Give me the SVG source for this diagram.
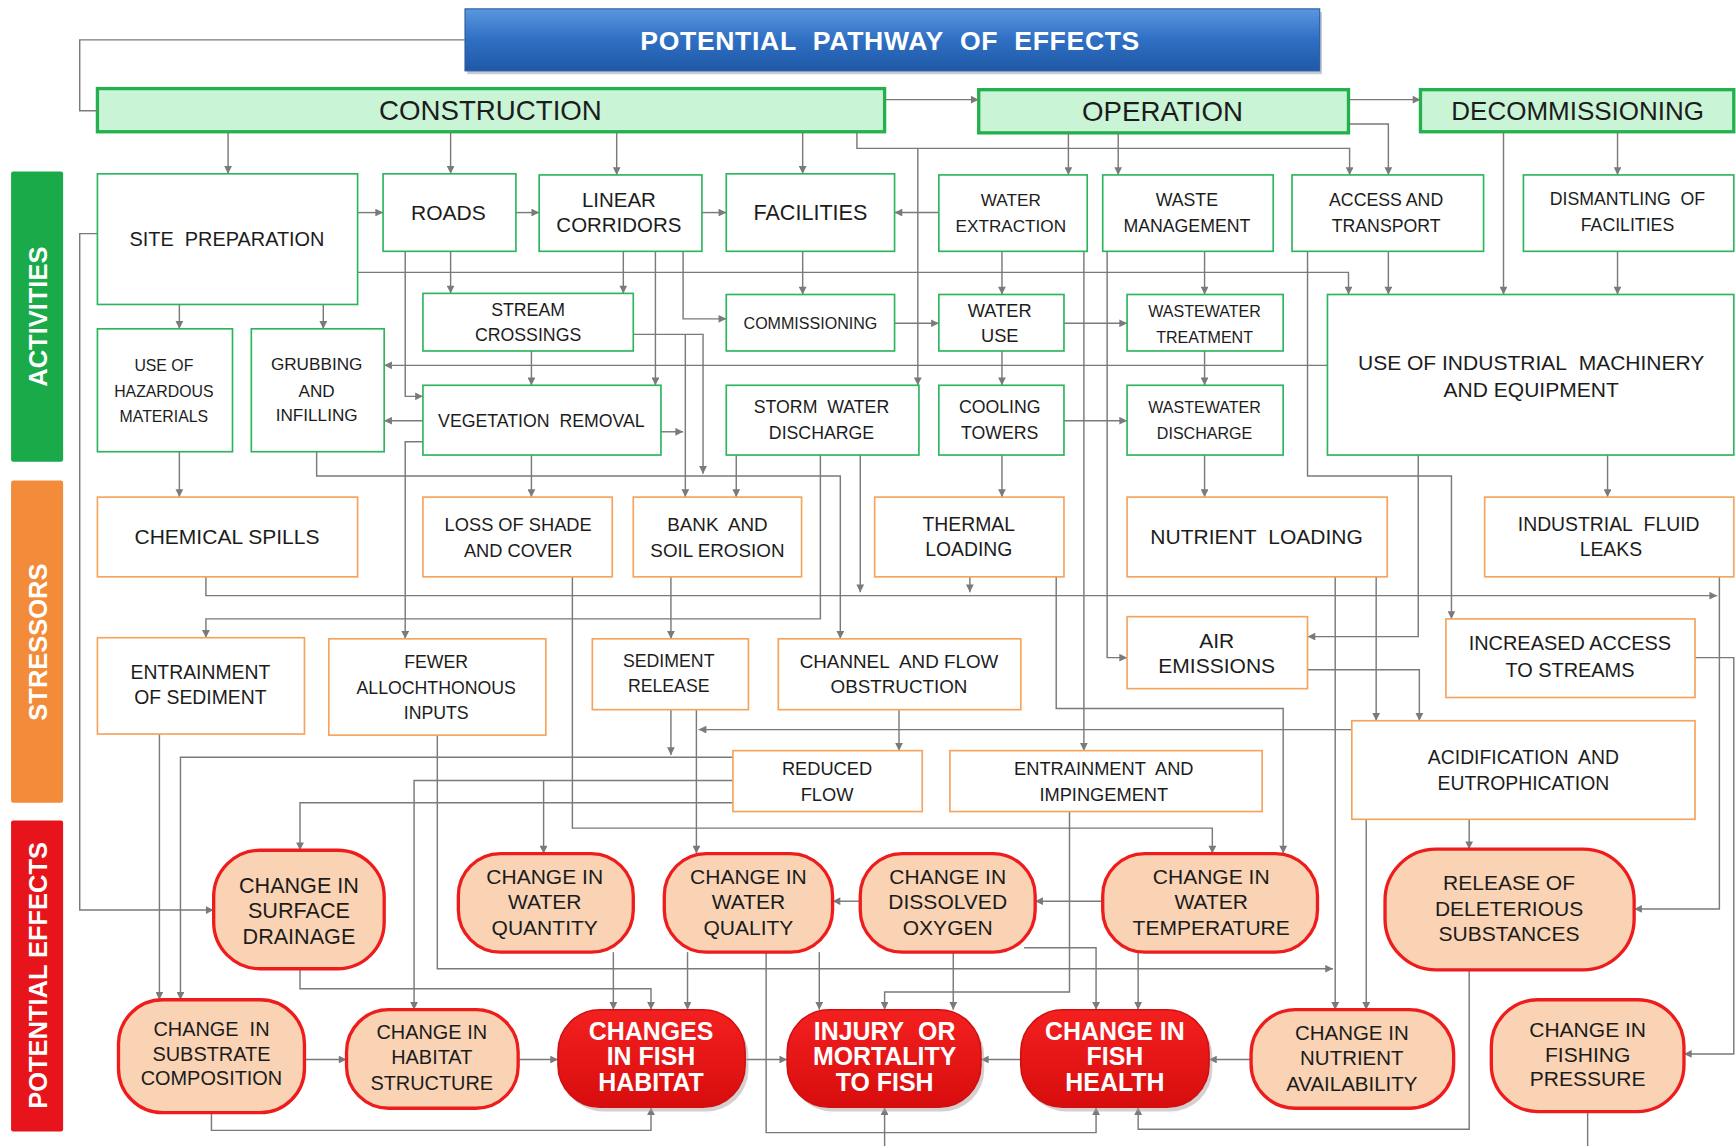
<svg xmlns="http://www.w3.org/2000/svg" width="1736" height="1146" viewBox="0 0 1736 1146">
<defs>
<style>
.t{font-family:"Liberation Sans",Arial,sans-serif;fill:#1c1c1c;text-anchor:middle;dominant-baseline:central}
.w{fill:#fff;font-weight:bold}
.act{fill:#fff;stroke:#2db55d;stroke-width:1.5}
.str{fill:#fff;stroke:#f6a35e;stroke-width:1.5}
.eff{fill:#f9d3b4;stroke:#ee1c1c;stroke-width:3}
.key{fill:url(#redg);stroke:#d01010;stroke-width:1.5}
.ph{fill:#c9f4d6;stroke:#22b14c;stroke-width:3}
.c{fill:none;stroke:#7a7a7a;stroke-width:1.3}
.a{marker-end:url(#ah)}
</style>
<marker id="ah" viewBox="0 0 10 10" refX="10" refY="5" markerWidth="8" markerHeight="7" markerUnits="userSpaceOnUse" orient="auto"><path d="M0,0 L10,5 L0,10 z" fill="#7a7a7a"/></marker>
<linearGradient id="blueg" x1="0" y1="0" x2="0" y2="1"><stop offset="0" stop-color="#5a97df"/><stop offset="0.5" stop-color="#2f6fc3"/><stop offset="1" stop-color="#1f58a6"/></linearGradient>
<linearGradient id="redg" x1="0" y1="0" x2="0" y2="1"><stop offset="0" stop-color="#f42020"/><stop offset="1" stop-color="#d80d0d"/></linearGradient>
</defs>
<rect width="1736" height="1146" fill="#fff"/>
<g transform="scale(1.10714)">
<g id="title">
<rect x="422" y="11" width="772" height="56" fill="#9aa6b6" opacity="0.6"/>
<rect x="420" y="8" width="772" height="56" fill="url(#blueg)" stroke="#2a5c9e" stroke-width="1"/>
<text class="t w" x="804" y="37" font-size="24" letter-spacing="0.6">POTENTIAL&#160; PATHWAY&#160; OF&#160; EFFECTS</text>
</g>
<g id="label-activities"><rect x="10" y="155" width="47" height="262" fill="#1aaa4a" rx="2"/><text class="t w" transform="translate(34,286) rotate(-90)" font-size="23">ACTIVITIES</text></g>
<g id="label-stressors"><rect x="10" y="434" width="47" height="291" fill="#f28c3a" rx="2"/><text class="t w" transform="translate(34,580) rotate(-90)" font-size="23">STRESSORS</text></g>
<g id="label-effects"><rect x="10" y="741" width="47" height="281" fill="#e8141b" rx="2"/><text class="t w" transform="translate(34,881) rotate(-90)" font-size="23">POTENTIAL EFFECTS</text></g>
<g id="construction"><rect class="ph" x="88" y="80" width="711" height="39"/><text class="t" x="443" y="100" font-size="25">CONSTRUCTION</text></g>
<g id="operation"><rect class="ph" x="884" y="81" width="334" height="39"/><text class="t" x="1050" y="101" font-size="25">OPERATION</text></g>
<g id="decommissioning"><rect class="ph" x="1283" y="81" width="283" height="38"/><text class="t" x="1425" y="100" font-size="23.5">DECOMMISSIONING</text></g>
<g id="connectors">
<path class="c" d="M420,36 H72 V100 H88"/>
<path class="c a" d="M799,90 H884"/>
<path class="c a" d="M1218,90 H1283"/>
<path class="c a" d="M1219,112 H1254 V158"/>
<path class="c a" d="M206,119 V157"/>
<path class="c a" d="M407,119 V157"/>
<path class="c a" d="M557,119 V158"/>
<path class="c a" d="M725,119 V157"/>
<path class="c a" d="M774,119 V134 H1219 V158"/>
<path class="c a" d="M829,134 V348"/>
<path class="c a" d="M965,120 V158"/>
<path class="c a" d="M1010,120 V158"/>
<path class="c a" d="M1358,119 V266"/>
<path class="c a" d="M1461,119 V158"/>
<path class="c a" d="M1461,227 V266"/>
<path class="c a" d="M1254,227 V266"/>
<path class="c a" d="M1181,227 V430 H1311 V559"/>
<path class="c a" d="M323,246 H1218 V266"/>
<path class="c a" d="M323,192 H346"/>
<path class="c a" d="M466,192 H487"/>
<path class="c a" d="M634,192 H656"/>
<path class="c a" d="M848,192 H808"/>
<path class="c a" d="M407,227 V265"/>
<path class="c a" d="M366,227 V358 H382"/>
<path class="c a" d="M382,399 H366 V577"/>
<path class="c a" d="M382,380 H347"/>
<path class="c a" d="M1199,330 H347"/>
<path class="c a" d="M162,275 V297"/>
<path class="c a" d="M292,275 V297"/>
<path class="c a" d="M162,408 V449"/>
<path class="c a" d="M88,211 H72 V822 H193"/>
<path class="c a" d="M286,408 V430 H759 V577"/>
<path class="c a" d="M480,317 V348"/>
<path class="c a" d="M572,302 H635 V428"/>
<path class="c a" d="M619,302 V449"/>
<path class="c a" d="M563,227 V265"/>
<path class="c a" d="M592,227 V348"/>
<path class="c a" d="M617,227 V288 H656"/>
<path class="c a" d="M597,390 H617"/>
<path class="c a" d="M480,411 V449"/>
<path class="c a" d="M665,411 V449"/>
<path class="c a" d="M741,411 V559 H186 V576"/>
<path class="c a" d="M777,411 V535"/>
<path class="c a" d="M186,521 V538 H1551"/>
<path class="c a" d="M876,521 V535"/>
<path class="c a" d="M725,227 V266"/>
<path class="c a" d="M808,292 H848"/>
<path class="c a" d="M905,227 V266"/>
<path class="c a" d="M961,292 H1018"/>
<path class="c a" d="M905,317 V348"/>
<path class="c a" d="M961,380 H1018"/>
<path class="c a" d="M905,411 V449"/>
<path class="c a" d="M1088,227 V266"/>
<path class="c a" d="M1088,317 V348"/>
<path class="c a" d="M1088,411 V449"/>
<path class="c a" d="M1000,227 V594 H1018"/>
<path class="c a" d="M979,227 V678"/>
<path class="c a" d="M1281,411 V575 H1181"/>
<path class="c a" d="M1452,411 V449"/>
<path class="c a" d="M1181,605 H1282 V651"/>
<path class="c a" d="M1206,521 V912"/>
<path class="c a" d="M1243,521 V651"/>
<path class="c a" d="M1327,740 V767"/>
<path class="c a" d="M1234,740 V912"/>
<path class="c a" d="M1221,659 H631"/>
<path class="c a" d="M629,641 V771"/>
<path class="c a" d="M954,521 V640 H1159 V771"/>
<path class="c a" d="M606,641 V682"/>
<path class="c a" d="M606,521 V577"/>
<path class="c a" d="M662,684 H163 V903"/>
<path class="c a" d="M662,705 H374 V912"/>
<path class="c a" d="M662,725 H271 V768"/>
<path class="c a" d="M491,705 V771"/>
<path class="c a" d="M812,641 V678"/>
<path class="c a" d="M144,663 V903"/>
<path class="c a" d="M395,664 V875 H1204"/>
<path class="c a" d="M271,875 V893 H588 V912"/>
<path class="c a" d="M554,860 V912"/>
<path class="c a" d="M621,860 V912"/>
<path class="c a" d="M517,521 V748 H1095 V771"/>
<path class="c a" d="M966,733 V896 H799 V912"/>
<path class="c a" d="M861,860 V912"/>
<path class="c a" d="M777,814 H752"/>
<path class="c a" d="M996,814 H935"/>
<path class="c a" d="M925,856 H990 V912"/>
<path class="c a" d="M1028,860 V912"/>
<path class="c a" d="M740,860 V912"/>
<path class="c a" d="M692,860 V1023 H990 V1000"/>
<path class="c a" d="M1327,876 V1020 H1028 V1000"/>
<path class="c a" d="M799,1040 V1000"/>
<path class="c" d="M1434,1004 V1040"/>
<path class="c a" d="M1531,594 H1566 V952 H1521"/>
<path class="c a" d="M1553,521 V821 H1476"/>
<path class="c a" d="M275,957 H313"/>
<path class="c a" d="M468,957 H504"/>
<path class="c a" d="M673,957 H711"/>
<path class="c a" d="M922,957 H886"/>
<path class="c a" d="M1130,957 H1092"/>
<path class="c a" d="M191,1005 V1021 H588 V1000"/>
</g>
<g id="site-preparation"><rect class="act" x="88" y="157" width="235" height="118"/><text class="t" x="205" y="216" font-size="18">SITE&#160; PREPARATION</text></g>
<g id="roads"><rect class="act" x="346" y="157" width="120" height="70"/><text class="t" x="405" y="192" font-size="19">ROADS</text></g>
<g id="linear-corridors"><rect class="act" x="487" y="158" width="147" height="69"/><text class="t" font-size="18.5"><tspan x="559" y="180">LINEAR</tspan><tspan x="559" y="202">CORRIDORS</tspan></text></g>
<g id="facilities"><rect class="act" x="656" y="157" width="152" height="70"/><text class="t" x="732" y="192" font-size="19.5">FACILITIES</text></g>
<g id="water-extraction"><rect class="act" x="848" y="158" width="134" height="69"/><text class="t" font-size="15.5"><tspan x="913" y="181">WATER</tspan><tspan x="913" y="204">EXTRACTION</tspan></text></g>
<g id="waste-management"><rect class="act" x="996" y="158" width="154" height="69"/><text class="t" font-size="16"><tspan x="1072" y="181">WASTE</tspan><tspan x="1072" y="204">MANAGEMENT</tspan></text></g>
<g id="access-transport"><rect class="act" x="1167" y="158" width="173" height="69"/><text class="t" font-size="16"><tspan x="1252" y="181">ACCESS AND</tspan><tspan x="1252" y="204">TRANSPORT</tspan></text></g>
<g id="dismantling"><rect class="act" x="1376" y="158" width="190" height="69"/><text class="t" font-size="16"><tspan x="1470" y="180">DISMANTLING&#160; OF</tspan><tspan x="1470" y="203">FACILITIES</tspan></text></g>
<g id="stream-crossings"><rect class="act" x="382" y="265" width="190" height="52"/><text class="t" font-size="16"><tspan x="477" y="280">STREAM</tspan><tspan x="477" y="303">CROSSINGS</tspan></text></g>
<g id="commissioning"><rect class="act" x="656" y="266" width="152" height="51"/><text class="t" x="732" y="292" font-size="14.5">COMMISSIONING</text></g>
<g id="water-use"><rect class="act" x="848" y="266" width="113" height="51"/><text class="t" font-size="16.5"><tspan x="903" y="280">WATER</tspan><tspan x="903" y="303">USE</tspan></text></g>
<g id="wastewater-treatment"><rect class="act" x="1018" y="266" width="141" height="51"/><text class="t" font-size="14.5"><tspan x="1088" y="281">WASTEWATER</tspan><tspan x="1088" y="304">TREATMENT</tspan></text></g>
<g id="industrial-machinery"><rect class="act" x="1199" y="266" width="367" height="145"/><text class="t" font-size="19"><tspan x="1383" y="327">USE OF INDUSTRIAL&#160; MACHINERY</tspan><tspan x="1383" y="351">AND EQUIPMENT</tspan></text></g>
<g id="hazardous-materials"><rect class="act" x="88" y="297" width="122" height="111"/><text class="t" font-size="14.3"><tspan x="148" y="330">USE OF</tspan><tspan x="148" y="353">HAZARDOUS</tspan><tspan x="148" y="376">MATERIALS</tspan></text></g>
<g id="grubbing"><rect class="act" x="227" y="297" width="120" height="111"/><text class="t" font-size="15.5"><tspan x="286" y="329">GRUBBING</tspan><tspan x="286" y="353">AND</tspan><tspan x="286" y="375">INFILLING</tspan></text></g>
<g id="vegetation-removal"><rect class="act" x="382" y="348" width="215" height="63"/><text class="t" x="489" y="380" font-size="16">VEGETATION&#160; REMOVAL</text></g>
<g id="storm-water"><rect class="act" x="656" y="348" width="174" height="63"/><text class="t" font-size="16"><tspan x="742" y="368">STORM&#160; WATER</tspan><tspan x="742" y="391">DISCHARGE</tspan></text></g>
<g id="cooling-towers"><rect class="act" x="848" y="348" width="113" height="63"/><text class="t" font-size="16"><tspan x="903" y="368">COOLING</tspan><tspan x="903" y="391">TOWERS</tspan></text></g>
<g id="wastewater-discharge"><rect class="act" x="1018" y="348" width="141" height="63"/><text class="t" font-size="14.5"><tspan x="1088" y="368">WASTEWATER</tspan><tspan x="1088" y="391">DISCHARGE</tspan></text></g>
<g id="chemical-spills"><rect class="str" x="88" y="449" width="235" height="72"/><text class="t" x="205" y="485" font-size="19">CHEMICAL SPILLS</text></g>
<g id="loss-of-shade"><rect class="str" x="382" y="449" width="171" height="72"/><text class="t" font-size="16.5"><tspan x="468" y="473">LOSS OF SHADE</tspan><tspan x="468" y="497">AND COVER</tspan></text></g>
<g id="bank-erosion"><rect class="str" x="572" y="449" width="152" height="72"/><text class="t" font-size="17"><tspan x="648" y="473">BANK&#160; AND</tspan><tspan x="648" y="497">SOIL EROSION</tspan></text></g>
<g id="thermal-loading"><rect class="str" x="790" y="449" width="171" height="72"/><text class="t" font-size="17.5"><tspan x="875" y="473">THERMAL</tspan><tspan x="875" y="496">LOADING</tspan></text></g>
<g id="nutrient-loading"><rect class="str" x="1018" y="449" width="235" height="72"/><text class="t" x="1135" y="485" font-size="19">NUTRIENT&#160; LOADING</text></g>
<g id="industrial-fluid-leaks"><rect class="str" x="1341" y="449" width="225" height="72"/><text class="t" font-size="17.5"><tspan x="1453" y="473">INDUSTRIAL&#160; FLUID</tspan><tspan x="1455" y="496">LEAKS</tspan></text></g>
<g id="entrainment-sediment"><rect class="str" x="88" y="576" width="187" height="87"/><text class="t" font-size="17.5"><tspan x="181" y="607">ENTRAINMENT</tspan><tspan x="181" y="630">OF SEDIMENT</tspan></text></g>
<g id="fewer-allochthonous"><rect class="str" x="297" y="577" width="196" height="87"/><text class="t" font-size="16"><tspan x="394" y="598">FEWER</tspan><tspan x="394" y="621">ALLOCHTHONOUS</tspan><tspan x="394" y="644">INPUTS</tspan></text></g>
<g id="sediment-release"><rect class="str" x="535" y="577" width="141" height="64"/><text class="t" font-size="16"><tspan x="604" y="597">SEDIMENT</tspan><tspan x="604" y="620">RELEASE</tspan></text></g>
<g id="channel-flow"><rect class="str" x="703" y="577" width="219" height="64"/><text class="t" font-size="17"><tspan x="812" y="597">CHANNEL&#160; AND FLOW</tspan><tspan x="812" y="620">OBSTRUCTION</tspan></text></g>
<g id="air-emissions"><rect class="str" x="1018" y="557" width="163" height="65"/><text class="t" font-size="19"><tspan x="1099" y="578">AIR</tspan><tspan x="1099" y="601">EMISSIONS</tspan></text></g>
<g id="increased-access"><rect class="str" x="1306" y="559" width="225" height="71"/><text class="t" font-size="18"><tspan x="1418" y="581">INCREASED ACCESS</tspan><tspan x="1418" y="605">TO STREAMS</tspan></text></g>
<g id="reduced-flow"><rect class="str" x="662" y="678" width="171" height="55"/><text class="t" font-size="16.5"><tspan x="747" y="694">REDUCED</tspan><tspan x="747" y="717">FLOW</tspan></text></g>
<g id="entrainment-impingement"><rect class="str" x="858" y="678" width="282" height="55"/><text class="t" font-size="16.5"><tspan x="997" y="694">ENTRAINMENT&#160; AND</tspan><tspan x="997" y="717">IMPINGEMENT</tspan></text></g>
<g id="acidification"><rect class="str" x="1221" y="651" width="310" height="89"/><text class="t" font-size="17.5"><tspan x="1376" y="684">ACIDIFICATION&#160; AND</tspan><tspan x="1376" y="707">EUTROPHICATION</tspan></text></g>
<g id="surface-drainage"><rect class="eff" x="193" y="768" width="154" height="107" rx="42" ry="42"/><text class="t" font-size="19.5"><tspan x="270" y="799">CHANGE IN</tspan><tspan x="270" y="822">SURFACE</tspan><tspan x="270" y="845">DRAINAGE</tspan></text></g>
<g id="water-quantity"><rect class="eff" x="414" y="771" width="158" height="89" rx="38" ry="38"/><text class="t" font-size="19"><tspan x="492" y="791">CHANGE IN</tspan><tspan x="492" y="814">WATER</tspan><tspan x="492" y="837">QUANTITY</tspan></text></g>
<g id="water-quality"><rect class="eff" x="600" y="771" width="152" height="89" rx="38" ry="38"/><text class="t" font-size="19"><tspan x="676" y="791">CHANGE IN</tspan><tspan x="676" y="814">WATER</tspan><tspan x="676" y="837">QUALITY</tspan></text></g>
<g id="dissolved-oxygen"><rect class="eff" x="777" y="771" width="158" height="89" rx="38" ry="38"/><text class="t" font-size="19"><tspan x="856" y="791">CHANGE IN</tspan><tspan x="856" y="814">DISSOLVED</tspan><tspan x="856" y="837">OXYGEN</tspan></text></g>
<g id="water-temperature"><rect class="eff" x="996" y="771" width="194" height="89" rx="38" ry="38"/><text class="t" font-size="19"><tspan x="1094" y="791">CHANGE IN</tspan><tspan x="1094" y="814">WATER</tspan><tspan x="1094" y="837">TEMPERATURE</tspan></text></g>
<g id="deleterious"><rect class="eff" x="1251" y="767" width="225" height="109" rx="46" ry="46"/><text class="t" font-size="19"><tspan x="1363" y="797">RELEASE OF</tspan><tspan x="1363" y="820">DELETERIOUS</tspan><tspan x="1363" y="843">SUBSTANCES</tspan></text></g>
<g id="substrate"><rect class="eff" x="107" y="903" width="168" height="102" rx="40" ry="40"/><text class="t" font-size="18"><tspan x="191" y="929">CHANGE&#160; IN</tspan><tspan x="191" y="952">SUBSTRATE</tspan><tspan x="191" y="974">COMPOSITION</tspan></text></g>
<g id="habitat-structure"><rect class="eff" x="313" y="912" width="155" height="89" rx="38" ry="38"/><text class="t" font-size="18"><tspan x="390" y="932">CHANGE IN</tspan><tspan x="390" y="955">HABITAT</tspan><tspan x="390" y="978">STRUCTURE</tspan></text></g>
<g id="fish-habitat"><rect x="507" y="916" width="169" height="88" rx="38" ry="38" fill="#b0a0a0" opacity="0.5"/><rect class="key" x="504" y="912" width="169" height="88" rx="38" ry="38"/><text class="t w" font-size="22.5"><tspan x="588" y="931">CHANGES</tspan><tspan x="588" y="954">IN FISH</tspan><tspan x="588" y="977">HABITAT</tspan></text></g>
<g id="injury-mortality"><rect x="714" y="916" width="175" height="88" rx="38" ry="38" fill="#b0a0a0" opacity="0.5"/><rect class="key" x="711" y="912" width="175" height="88" rx="38" ry="38"/><text class="t w" font-size="22.5"><tspan x="799" y="931">INJURY&#160; OR</tspan><tspan x="799" y="954">MORTALITY</tspan><tspan x="799" y="977">TO FISH</tspan></text></g>
<g id="fish-health"><rect x="925" y="916" width="170" height="88" rx="38" ry="38" fill="#b0a0a0" opacity="0.5"/><rect class="key" x="922" y="912" width="170" height="88" rx="38" ry="38"/><text class="t w" font-size="22.5"><tspan x="1007" y="931">CHANGE IN</tspan><tspan x="1007" y="954">FISH</tspan><tspan x="1007" y="977">HEALTH</tspan></text></g>
<g id="nutrient-availability"><rect class="eff" x="1130" y="912" width="183" height="89" rx="40" ry="40"/><text class="t" font-size="18.5"><tspan x="1221" y="932">CHANGE IN</tspan><tspan x="1221" y="955">NUTRIENT</tspan><tspan x="1221" y="978">AVAILABILITY</tspan></text></g>
<g id="fishing-pressure"><rect class="eff" x="1347" y="903" width="174" height="101" rx="42" ry="42"/><text class="t" font-size="19"><tspan x="1434" y="929">CHANGE IN</tspan><tspan x="1434" y="952">FISHING</tspan><tspan x="1434" y="974">PRESSURE</tspan></text></g>
</g>
</svg>
